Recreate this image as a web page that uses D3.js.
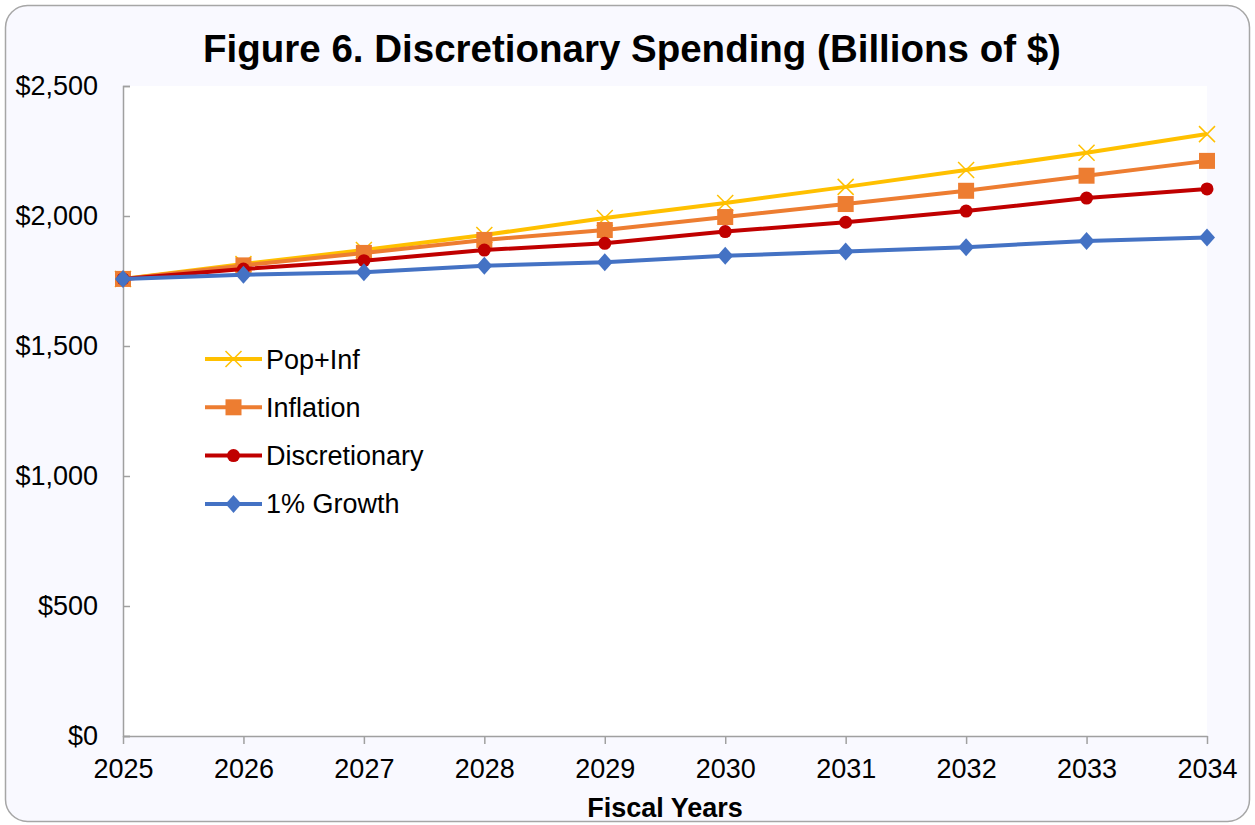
<!DOCTYPE html>
<html>
<head>
<meta charset="utf-8">
<script src="https://cdn.jsdelivr.net/npm/d3@7"></script>
<style>
  html, body { margin: 0; padding: 0; background: #ffffff; }
  svg { display: block; }
  text { font-family: "Liberation Sans", Arial, sans-serif; fill: #000; }
</style>
</head>
<body>
<svg id="chart" width="1255" height="825"></svg>
<script>
// Fiscal years on the horizontal axis
const years = [2025, 2026, 2027, 2028, 2029, 2030, 2031, 2032, 2033, 2034];

// Spending projections, billions of dollars
const popInf        = [1758, 1815, 1869, 1927, 1992, 2050, 2112, 2177, 2243, 2315];
const inflation     = [1758, 1810, 1858, 1908, 1946, 1996, 2046, 2097, 2155, 2212];
const discretionary = [1758, 1796, 1828, 1869, 1895, 1940, 1976, 2019, 2069, 2104];
const growth1pct    = [1758, 1774, 1784, 1809, 1822, 1847, 1863, 1880, 1904, 1917];

const yTicks = [0, 500, 1000, 1500, 2000, 2500];
const seriesNames = ["Pop+Inf", "Inflation", "Discretionary", "1% Growth"];

const series = [
  { name: seriesNames[0], values: popInf,        color: "#FFC000", marker: "x" },
  { name: seriesNames[1], values: inflation,     color: "#ED7D31", marker: "square" },
  { name: seriesNames[2], values: discretionary, color: "#C00000", marker: "circle" },
  { name: seriesNames[3], values: growth1pct,    color: "#4472C4", marker: "diamond" }
];

const svg = d3.select("#chart");

// Chart frame
svg.append("rect")
  .attr("x", 5.5).attr("y", 5.5)
  .attr("width", 1244).attr("height", 816)
  .attr("rx", 22).attr("ry", 22)
  .attr("fill", "#F9F9FF")
  .attr("stroke", "#A6A6A6")
  .attr("stroke-width", 1.5);

const plot = { left: 123, right: 1207, top: 86, bottom: 736 };

const x = d3.scalePoint().domain(years).range([plot.left, plot.right]);
const y = d3.scaleLinear().domain([0, 2500]).range([plot.bottom, plot.top]);

// Plot area
svg.append("rect")
  .attr("x", plot.left).attr("y", plot.top)
  .attr("width", plot.right - plot.left)
  .attr("height", plot.bottom - plot.top)
  .attr("fill", "#ffffff");

// Title
svg.append("text")
  .attr("x", 632).attr("y", 62)
  .attr("text-anchor", "middle")
  .style("font-size", "38.5px")
  .style("font-weight", "bold")
  .text("Figure 6. Discretionary Spending (Billions of $)");

// Y axis
const yAxis = svg.append("g")
  .attr("transform", `translate(${plot.left},0)`)
  .call(d3.axisLeft(y).tickValues(yTicks)
    .tickFormat(d => "$" + d3.format(",")(d))
    .tickSize(-7).tickPadding(25));
yAxis.select(".domain").attr("stroke", "#A0A0A0").attr("stroke-width", 1.5);
yAxis.selectAll(".tick line").attr("stroke", "#A0A0A0").attr("stroke-width", 1.5);
yAxis.selectAll(".tick text")
  .style("font-size", "27px")
  .style("font-family", "'Liberation Sans', Arial, sans-serif")
  .attr("fill", "#000");

// X axis
const xAxis = svg.append("g")
  .attr("transform", `translate(0,${plot.bottom})`)
  .call(d3.axisBottom(x).tickSize(8).tickPadding(15).tickSizeOuter(0));
xAxis.select(".domain").attr("stroke", "#A0A0A0").attr("stroke-width", 1.5);
xAxis.selectAll(".tick line").attr("stroke", "#A0A0A0").attr("stroke-width", 1.5);
xAxis.selectAll(".tick text")
  .style("font-size", "27px")
  .style("font-family", "'Liberation Sans', Arial, sans-serif")
  .attr("fill", "#000");

// X axis title
svg.append("text")
  .attr("x", 665).attr("y", 817)
  .attr("text-anchor", "middle")
  .style("font-size", "27px")
  .style("font-weight", "bold")
  .text("Fiscal Years");

// Marker drawing
function drawMarker(sel, type, color) {
  if (type === "x") {
    const s = 8;
    sel.append("path")
      .attr("d", `M${-s},${-s}L${s},${s}M${-s},${s}L${s},${-s}`)
      .attr("stroke", color).attr("stroke-width", 1.5).attr("fill", "none");
  } else if (type === "square") {
    sel.append("rect")
      .attr("x", -8).attr("y", -8).attr("width", 16).attr("height", 16)
      .attr("fill", color);
  } else if (type === "circle") {
    sel.append("circle").attr("r", 6.5).attr("fill", color);
  } else if (type === "diamond") {
    sel.append("path")
      .attr("d", "M0,-9L8,0L0,9L-8,0Z")
      .attr("fill", color);
  }
}

const line = d3.line()
  .x((d, i) => x(years[i]))
  .y(d => y(d));

series.forEach(s => {
  const g = svg.append("g");
  g.append("path")
    .datum(s.values)
    .attr("d", line)
    .attr("fill", "none")
    .attr("stroke", s.color)
    .attr("stroke-width", 4)
    .attr("stroke-linejoin", "round");
  s.values.forEach((v, i) => {
    const m = g.append("g").attr("transform", `translate(${x(years[i])},${y(v)})`);
    drawMarker(m, s.marker, s.color);
  });
});

// Legend
const legend = svg.append("g").attr("transform", "translate(205,359)");
series.forEach((s, i) => {
  const row = legend.append("g").attr("transform", `translate(0,${i * 48.3})`);
  row.append("line")
    .attr("x1", 0).attr("x2", 57).attr("y1", 0).attr("y2", 0)
    .attr("stroke", s.color).attr("stroke-width", 4);
  const m = row.append("g").attr("transform", "translate(28.5,0)");
  drawMarker(m, s.marker, s.color);
  row.append("text")
    .attr("x", 61).attr("y", 9.5)
    .style("font-size", "27px")
    .text(s.name);
});
</script>
</body>
</html>
